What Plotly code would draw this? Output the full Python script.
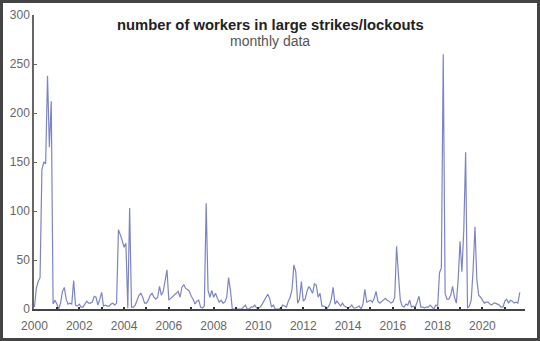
import plotly.graph_objects as go

# monthly values, Jan 2000 onward
y2000 = [2, 21, 28, 32, 142, 150, 148, 238, 165, 212, 5, 9]
y2001 = [5, 0, 6, 18, 22, 10, 5, 6, 5, 29, 4, 3]
y2002 = [5, 2, 2, 5, 8, 6, 6, 7, 13, 12, 4, 10]
y2003 = [17, 3, 4, 3, 3, 5, 6, 4, 6, 81, 76, 70]
y2004 = [63, 67, 1, 103, 2, 2, 4, 10, 14, 16, 12, 6]
y2005 = [6, 9, 14, 16, 12, 10, 12, 23, 14, 18, 30, 40]
y2006 = [9, 11, 13, 14, 16, 18, 12, 22, 25, 21, 20, 18]
y2007 = [13, 10, 5, 8, 9, 2, 1, 3, 108, 19, 12, 19]
y2008 = [12, 16, 11, 7, 9, 6, 7, 12, 32, 19, 0, 0]
y2009 = [0, 0, 0, 0, 2, 4, 0, 0, 2, 2, 4, 1]
y2010 = [1, 2, 5, 8, 12, 15, 11, 2, 4, 0, 0, 0]
y2011 = [1, 4, 3, 2, 8, 12, 20, 45, 38, 6, 10, 28]
y2012 = [8, 10, 18, 23, 20, 16, 26, 24, 12, 16, 3, 3]
y2013 = [2, 1, 4, 10, 22, 5, 8, 5, 3, 6, 3, 2]
y2014 = [1, 2, 4, 1, 1, 2, 3, 0, 5, 20, 7, 8]
y2015 = [9, 7, 11, 18, 8, 6, 8, 9, 11, 9, 8, 6]
y2016 = [7, 12, 64, 35, 9, 3, 2, 5, 4, 9, 2, 3]
y2017 = [2, 7, 13, 2, 2, 1, 2, 2, 4, 2, 0, 4]
y2018 = [3, 37, 42, 260, 16, 10, 10, 14, 23, 12, 6, 30]
y2019 = [69, 38, 80, 160, 1, 3, 9, 40, 84, 30, 14, 12]
y2020 = [9, 6, 7, 7, 5, 4, 6, 6, 5, 4, 2, 2]
y2021 = [8, 10, 6, 9, 8, 6, 7, 6, 17]

years = [2000, 2001, 2002, 2003, 2004, 2005, 2006, 2007, 2008, 2009, 2010,
         2011, 2012, 2013, 2014, 2015, 2016, 2017, 2018, 2019, 2020, 2021]
series = [y2000, y2001, y2002, y2003, y2004, y2005, y2006, y2007, y2008, y2009,
          y2010, y2011, y2012, y2013, y2014, y2015, y2016, y2017, y2018, y2019,
          y2020, y2021]

xs, ys = [], []
for yr, vals in zip(years, series):
    for m, v in enumerate(vals):
        xs.append(yr + m / 12)
        ys.append(v)

tick_years = list(range(2000, 2022))
tick_text = [str(y) if y % 2 == 0 else "" for y in tick_years]
y_ticks = [0, 50, 100, 150, 200, 250, 300]

title = "number of workers in large strikes/lockouts"
subtitle = "monthly data"

W, H = 540, 341
ml, mr, mt, mb = 34, 15, 15, 32
pw, ph = W - ml - mr, H - mt - mb

def px_x(p):
    return (p - ml) / pw

def px_y(p):
    return (H - mb - p) / ph

fig = go.Figure()
fig.add_trace(go.Scatter(x=xs, y=ys, mode="lines",
                         line=dict(color="#7d84c6", width=1.2),
                         hoverinfo="skip", showlegend=False))

font_fam = "Liberation Sans, Arial, sans-serif"
fig.update_layout(
    width=W, height=H,
    margin=dict(l=ml, r=mr, t=mt, b=mb, autoexpand=False),
    paper_bgcolor="white", plot_bgcolor="white",
    font=dict(family=font_fam, size=12, color="#666"),
    xaxis=dict(range=[1999.98, 2021.9], tickvals=tick_years, ticktext=tick_text,
               ticks="inside", ticklen=2, tickcolor="#333", tickwidth=1.5,
               showline=True, linecolor="#444", linewidth=1.5,
               showgrid=False, zeroline=False, layer="above traces",
               ticklabelstandoff=5, automargin=False,
               tickfont=dict(size=12, color="#666")),
    yaxis=dict(range=[0, 300], tickvals=y_ticks, ticks="inside", ticklen=3,
               tickcolor="#666", showline=True, linecolor="#666", linewidth=1.5,
               showgrid=False, zeroline=False, layer="above traces",
               automargin=False,
               tickfont=dict(size=12, color="#666")),
    annotations=[
        dict(text="<b>" + title + "</b>", xref="paper", yref="paper",
             x=px_x(270), y=px_y(25), xanchor="center", yanchor="middle",
             showarrow=False, font=dict(size=14.8, color="#222", family=font_fam)),
        dict(text=subtitle, xref="paper", yref="paper",
             x=px_x(270), y=px_y(40.5), xanchor="center", yanchor="middle",
             showarrow=False, font=dict(size=14, color="#555", family=font_fam)),
    ],
    shapes=[dict(type="rect", xref="paper", yref="paper",
                 x0=px_x(1.5), x1=px_x(W - 1.5), y0=px_y(H - 1.5), y1=px_y(1.5),
                 line=dict(color="#444", width=3), layer="above")],
)

fig.write_html("out.html")
